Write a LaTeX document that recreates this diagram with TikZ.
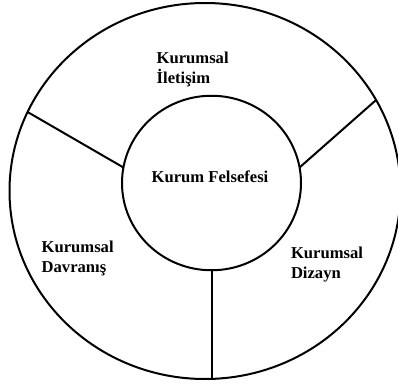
\documentclass[tikz,border=0pt]{standalone}
\usepackage{fontspec}
\setmainfont{Liberation Serif}
\usetikzlibrary{shapes.geometric}
\begin{document}
\begin{tikzpicture}[x=1pt,y=-1pt,
  ring/.style={draw=black,line width=2pt,ellipse,inner sep=0pt,outer sep=0pt},
  divider/.style={draw=black,line width=2pt},
  lbl/.style={font=\bfseries\fontsize{16.6}{20}\selectfont,text=black,inner sep=0pt,outer sep=0pt,align=left,anchor=base west}]
\useasboundingbox (0,0) rectangle (398,385);
\fill[white] (0,0) rectangle (398,385);
\node[ring,minimum width=391pt,minimum height=376pt] (outer) at (205,191) {};
\node[ring,minimum width=179pt,minimum height=174.5pt] (core) at (211.5,183) {};
\draw[divider] (core.170) -- (outer.156.7);
\draw[divider] (core.10) -- (outer.28.6);
\draw[divider] (core.south -| outer.272.5) -- (outer.272.5);
\node[lbl] (ilet) at (156.7,83.3) {Kurumsal\\İletişim};
\node[lbl] (fels) at (151.7,182.3) {Kurum Felsefesi};
\node[lbl] (davr) at (41.7,272.3) {Kurumsal\\Davranış};
\node[lbl] (diza) at (291,278) {Kurumsal\\Dizayn};
\end{tikzpicture}
\end{document}
